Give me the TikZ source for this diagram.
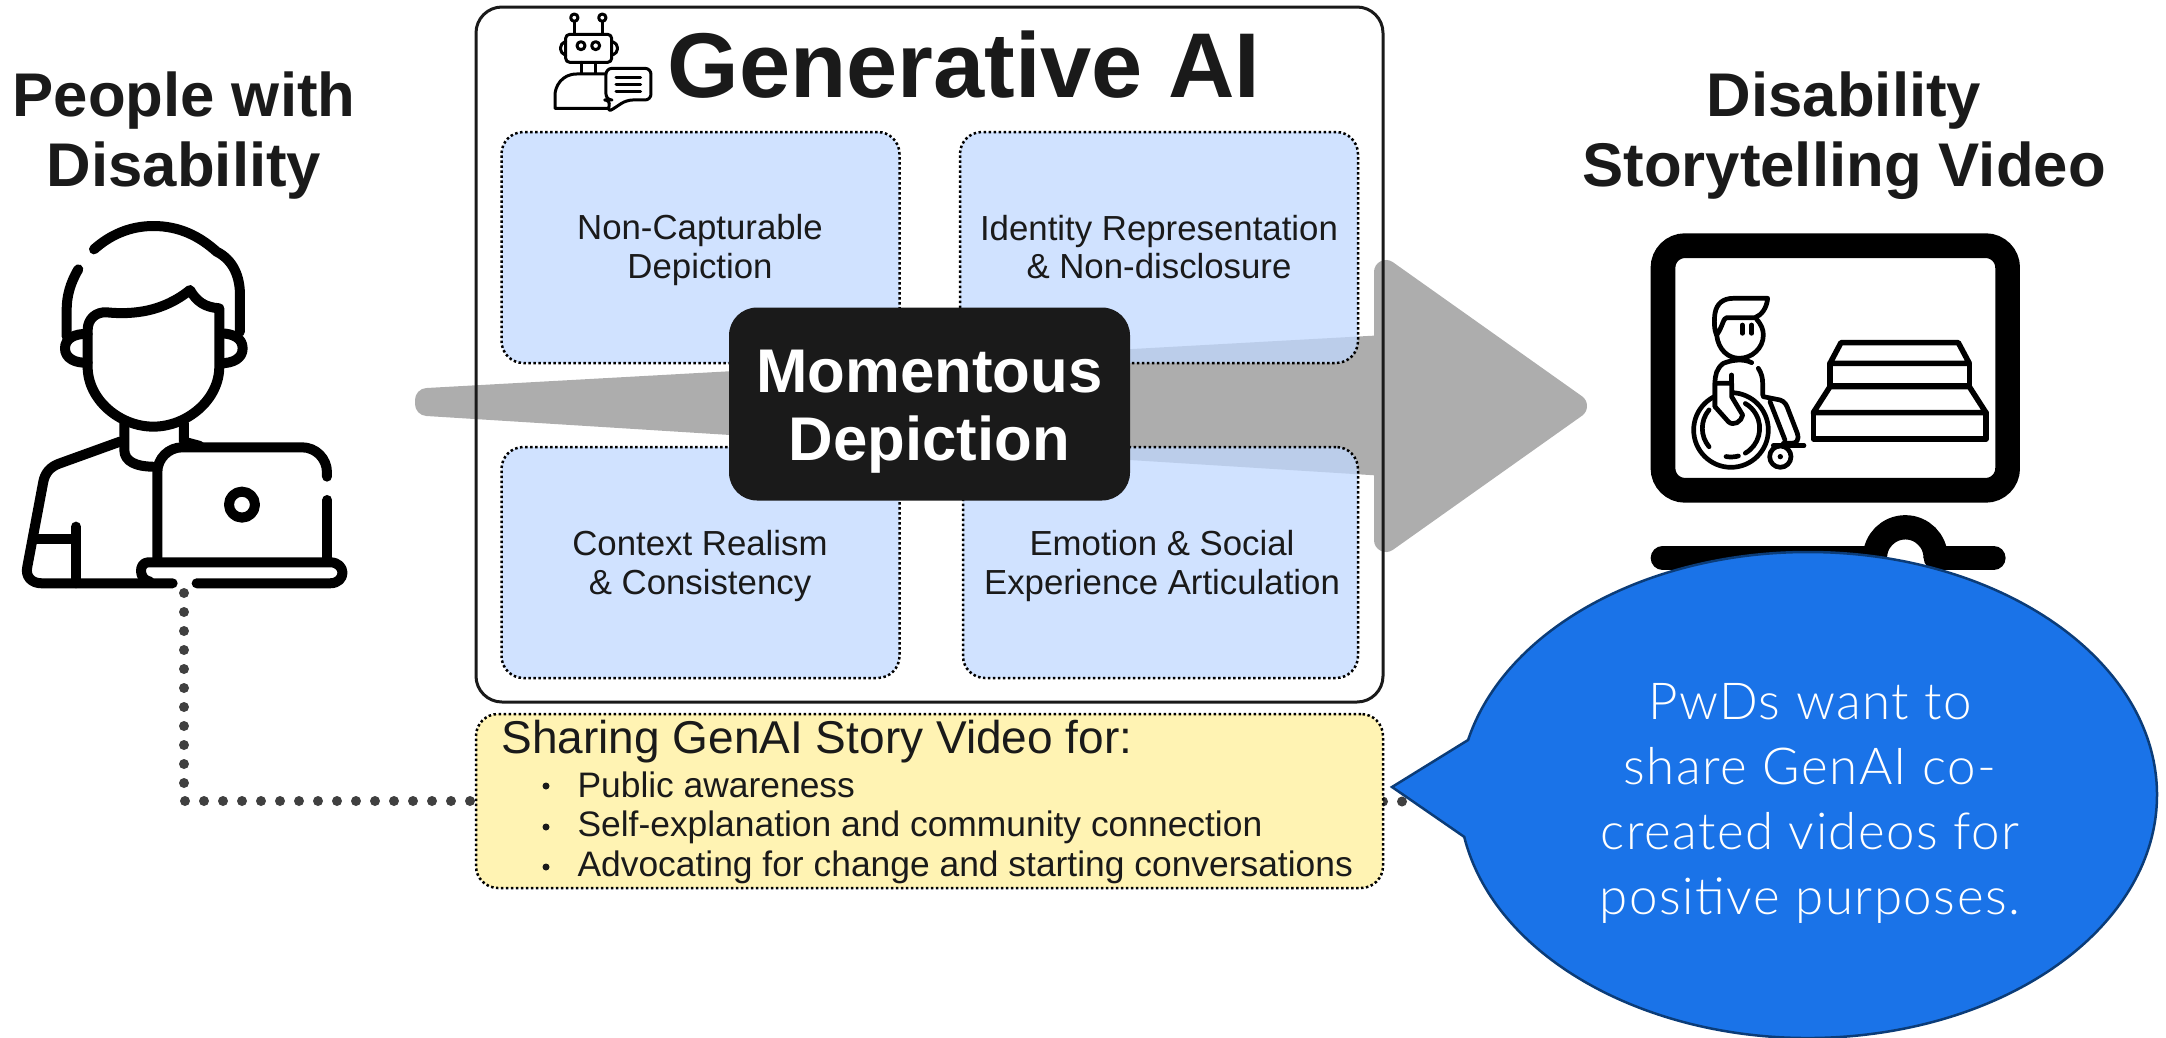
\documentclass[tikz,border=0pt]{standalone}
\usepackage{fontspec}
\setmainfont{Liberation Sans}
\newfontfamily\bubblefont[LetterSpace=3]{Lato Light}
\usetikzlibrary{shapes.callouts}
\definecolor{inkgray}{HTML}{1A1A1A}
\definecolor{arrowgray}{HTML}{ADADAD}
\definecolor{boxblue}{HTML}{C0D8FF}
\definecolor{boxyellow}{HTML}{FFF3B3}
\definecolor{bubbleblue}{HTML}{1A73E8}
\definecolor{bubbleline}{HTML}{0B3C78}
\definecolor{dotgray}{HTML}{404040}
\tikzset{
  heading/.style={font=\fontsize{61.7}{70}\bfseries\selectfont, text=inkgray, align=center},
  depictbox/.style={draw=black, line width=2.5pt, dash pattern=on 2.5pt off 2.5pt, fill=boxblue, fill opacity=0.75,
    rounded corners=22pt, minimum width=398pt, minimum height=231pt},
  depicttext/.style={font=\fontsize{34.8}{38.5}\selectfont, text=inkgray, align=center},
  sharebox/.style={draw=black, line width=2.5pt, dash pattern=on 2.5pt off 2.5pt, fill=boxyellow, rounded corners=22pt,
    minimum width=907pt, minimum height=174pt},
  sharetext/.style={font=\fontsize{35.4}{35.4}\selectfont, text=inkgray, anchor=west},
  dotlink/.style={draw=dotgray, line width=10pt, line cap=round, dash pattern=on 0pt off 19pt},
  icon/.style={line width=10pt, line cap=round, line join=round},
  thinicon/.style={line width=4.7pt, line cap=round, line join=round},
  stairline/.style={line width=5.5pt, line join=round}
}
\begin{document}
\begin{tikzpicture}[x=1pt, y=-1pt]
\useasboundingbox (0,0) rectangle (2166,1037);
\coordinate (LP) at (184,593);
\coordinate (TT) at (427,400);
\coordinate (TB) at (427,404);

\node[heading] (PD) at (184,136) {People with\\Disability};
\node[heading] (SV) at (1844,136) {Disability\\Storytelling Video};

% big arrow
\draw[draw=arrowgray, fill=arrowgray, line width=24pt, line join=round]
  (TT) -- (1386,347) -- (1386,272) -- (1575,406) -- (1386,540) -- (1386,464) -- (TB) -- cycle;

\node[draw=inkgray, line width=3pt, rounded corners=26pt, minimum width=907pt, minimum height=695pt] (GA) at (929.5,354.5) {};
\node[font=\fontsize{92}{92}\bfseries\selectfont, text=inkgray] (GT) at (964,65) {Generative AI};
\node[depictbox] (NC) at (700.5,247.5) {};
\node[depictbox] (IR) at (1159,247.5) {};
\node[depictbox] (CR) at (700.5,562.5) {};
\node[depictbox, minimum width=395pt] (EM) at (1160.5,562.5) {};
\node[depicttext] (NCt) at (700,250) {Non-Capturable\\Depiction};
\node[depicttext] (IRt) at (1159,247) {Identity Representation\\\& Non-disclosure};
\node[depicttext] (CRt) at (700,566) {Context Realism\\\& Consistency};
\node[depicttext] (EMt) at (1162,566) {Emotion \& Social\\Experience Articulation};
\node[fill=inkgray, rounded corners=28pt, minimum width=401pt, minimum height=193pt] (MD) at (929.5,404) {};
\node[text=white, align=center, font=\fontsize{61.7}{68}\bfseries\selectfont] (MDt) at (929.5,412) {Momentous\\Depiction};

\coordinate (SL) at (476,801);
\coordinate (SR) at (1383,801.5);
\draw[dotlink] (LP) |- (SL);
\draw[dotlink] (SR) -- (1420,801.5);
\node[sharebox] (SH) at (929.5,801) {};
\node[anchor=west, font=\fontsize{46}{46}\selectfont, text=inkgray] (SHh) at (498,742) {Sharing GenAI Story Video for:};
\node[sharetext] (S1) at (574,785) {Public awareness};
\node[sharetext] (S2) at (574,827) {Self-explanation and community connection};
\node[sharetext] (S3) at (574,867) {Advocating for change and starting conversations};
\fill[inkgray] (546,786) circle (3.5) (546,827) circle (3.5) (546,867) circle (3.5);

% person with laptop
\begin{scope}[shift={(0,200)}, scale=0.3333]
\draw[icon] (282,148) .. controls (330,105) and (390,78) .. (460,78) .. controls (540,78) and (600,110) .. (650,155)
  .. controls (700,180) and (720,230) .. (720,285) -- (720,395);
\draw[icon] (235,208) .. controls (210,250) and (200,290) .. (200,330) -- (200,410);
\draw[icon] (263,402) .. controls (225,400) and (195,415) .. (195,445) .. controls (195,475) and (225,490) .. (263,488);
\draw[icon] (660,400) .. controls (700,400) and (728,415) .. (728,445) .. controls (728,475) and (700,490) .. (660,490);
\draw[icon] (263,500) -- (263,390) .. controls (263,355) and (290,335) .. (320,337) .. controls (400,345) and (490,335) .. (570,270)
  .. controls (590,305) and (615,322) .. (658,325) -- (658,500) .. controls (658,600) and (560,680) .. (460,680)
  .. controls (360,680) and (263,600) .. (263,500);
\draw[icon] (373,670) -- (373,750) .. controls (373,785) and (410,800) .. (458,800);
\draw[icon] (552,670) -- (552,725) -- (600,738);
\draw[icon] (360,725) -- (180,790) .. controls (150,800) and (135,820) .. (130,845) -- (82,1100)
  .. controls (75,1130) and (95,1150) .. (125,1150) -- (518,1150);
\draw[icon] (228,980) -- (228,1150);
\draw[icon] (105,1017) -- (228,1017);
\draw[icon, rounded corners=25pt] (981,830) -- (981,742) -- (472,742) -- (472,1085);
\draw[icon] (982,900) -- (982,1085);
\draw[icon] (590,1150) -- (990,1150) .. controls (1040,1150) and (1040,1087) .. (990,1087) -- (445,1087)
  .. controls (415,1087) and (415,1140) .. (450,1145);
\draw[icon] (726,914) circle (39);
\end{scope}

% robot
\begin{scope}[shift={(520,0)}, scale=0.3333, line width=3pt, line cap=round, line join=round]
\draw (163,53) circle (11) (247,53) circle (11);
\draw (163,64) -- (163,103) (247,64) -- (247,103);
\draw[rounded corners=4pt] (137,103) rectangle (275,187);
\draw[rounded corners=4pt] (137,125) -- (122,130) -- (122,160) -- (137,165);
\draw[rounded corners=4pt] (275,125) -- (292,130) -- (292,160) -- (275,165);
\draw (183,137) circle (12) (227,137) circle (12);
\draw (185,187) -- (185,220) (228,187) -- (228,220);
\draw (258,222) -- (170,222) .. controls (125,222) and (105,260) .. (105,285) -- (105,325) -- (270,325);
\draw[fill=white, rounded corners=6pt] (320,300) -- (262,338) -- (272,300) -- (258,300) -- (258,205) -- (393,205) -- (393,300) -- cycle;
\draw (288,232) -- (362,232) (288,253) -- (362,253) (288,274) -- (362,274);
\end{scope}

% monitor with wheelchair user and stairs
\begin{scope}[shift={(1600,220)}, scale=0.3333]
\draw[line width=24.7pt, rounded corners=22pt] (189,77) rectangle (1223,811);
\draw[line width=24pt, line cap=round] (188,1014) -- (825,1014);
\draw[line width=24pt, line cap=round] (1007,1014) -- (1181,1014);
\draw[line width=24.3pt] (825,1013) arc[start angle=180, end angle=360, radius=91];
\draw[thinicon] (350,345) .. controls (342,330) and (342,300) .. (345,280) .. controls (350,250) and (370,235) .. (400,235)
  -- (503,235) .. controls (500,265) and (485,285) .. (465,293) -- (380,293) .. controls (370,293) and (368,320) .. (350,345);
\draw[thinicon] (427,315) -- (427,340) (455,315) -- (455,340);
\draw[thinicon] (470,298) .. controls (485,315) and (490,330) .. (490,345) .. controls (490,385) and (455,415) .. (418,415)
  .. controls (385,415) and (355,390) .. (350,345);
\draw[thinicon] (475,445) .. controls (485,460) and (488,475) .. (488,490) -- (488,525);
\draw[thinicon] (393,630) circle (112);
\draw[thinicon] (393,625) ++(60:86) arc[start angle=60, end angle=-60, radius=86];
\draw[thinicon] (393,625) ++(100:86) arc[start angle=100, end angle=75, radius=86];
\draw[thinicon] (393,625) ++(140:86) arc[start angle=140, end angle=220, radius=86];
\draw[thinicon] (455,428) .. controls (430,415) and (395,420) .. (370,430) .. controls (350,445) and (345,465) .. (345,490) -- (345,560);
\draw[thinicon, fill=white] (345,490) -- (395,490) -- (395,530) -- (428,585) .. controls (425,605) and (400,620) .. (385,605) -- (345,560) -- cycle;
\draw[thinicon] (395,465) -- (395,490);
\draw[thinicon] (490,530) -- (540,540) .. controls (555,545) and (560,555) .. (565,570) -- (592,640) .. controls (598,660) and (590,670) .. (575,670) -- (550,670);
\draw[thinicon] (510,545) -- (555,660);
\draw[thinicon] (520,677) -- (612,677);
\draw[thinicon] (541,710) circle (32);
\fill (541,710) circle (8);
\draw[stairline] (723,368) -- (1075,368) -- (1108,430) -- (690,430) -- cycle;
\draw[stairline] (690,430) rectangle (1108,498);
\draw[stairline] (690,500) -- (1108,500) -- (1158,578) -- (640,578) -- cycle;
\draw[stairline] (640,578) rectangle (1158,657);
\end{scope}

\node[ellipse callout, draw=bubbleline, line width=2.5pt, fill=bubbleblue, minimum width=698pt, minimum height=486pt, inner sep=0pt,
  callout absolute pointer={(1392,787)}, callout pointer arc=23] (BB) at (1808,795) {};
\node[text=white, align=center, font=\bubblefont\fontsize{51}{65}\selectfont] (BBt) at (1810,803) {PwDs want to\\share GenAI co-\\created videos for\\positive purposes.};
\end{tikzpicture}
\end{document}
